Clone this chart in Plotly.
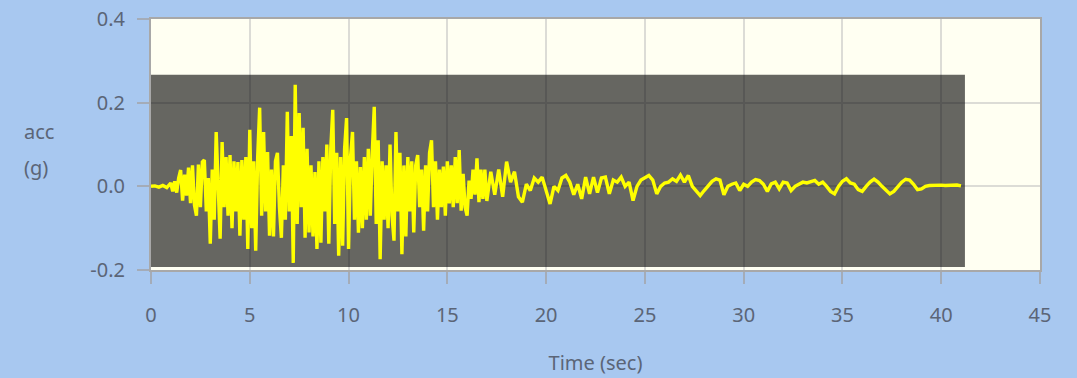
import plotly.graph_objects as go

# ---------------- data ----------------
# onset (quiet start)
t_onset = [0.0, 0.2, 0.4, 0.6, 0.8, 1.0, 1.1, 1.2, 1.3, 1.4]
a_onset = [0.0, 0.001, -0.002, 0.002, -0.003, 0.008, -0.012, 0.012, -0.015, 0.02]

# strong-motion phase
t_strong = [
    1.5, 1.6, 1.7, 1.8, 1.9, 2.0, 2.1, 2.2, 2.3, 2.4,
    2.5, 2.6, 2.7, 2.8, 2.9, 3.0, 3.1, 3.2, 3.3, 3.4,
    3.5, 3.6, 3.7, 3.8, 3.9, 4.0, 4.1, 4.2, 4.3, 4.4,
    4.5, 4.6, 4.7, 4.8, 4.9, 5.0, 5.1, 5.2, 5.3, 5.4,
    5.5, 5.6, 5.7, 5.8, 5.9, 6.0, 6.1, 6.2, 6.3, 6.4,
    6.5, 6.6, 6.7, 6.8, 6.9, 7.0, 7.1, 7.2, 7.3, 7.4,
    7.5, 7.6, 7.7, 7.8, 7.9, 8.0, 8.1, 8.2, 8.3, 8.4,
    8.5, 8.6, 8.7, 8.8, 8.9, 9.0, 9.1, 9.2, 9.3, 9.4,
    9.5, 9.6, 9.7, 9.8, 9.9, 10.0, 10.1, 10.2, 10.3, 10.4,
    10.5, 10.6, 10.7, 10.8, 10.9, 11.0, 11.1, 11.2, 11.3, 11.4,
    11.5, 11.6, 11.7, 11.8, 11.9, 12.0, 12.1, 12.2, 12.3, 12.4,
    12.5, 12.6, 12.7, 12.8, 12.9, 13.0, 13.1, 13.2, 13.3, 13.4,
    13.5, 13.6, 13.7, 13.8, 13.9, 14.0, 14.1, 14.2, 14.3, 14.4,
    14.5, 14.6, 14.7, 14.8, 14.9, 15.0, 15.1, 15.2, 15.3, 15.4,
    15.5, 15.6, 15.7, 15.8, 15.9, 16.0, 16.1, 16.2, 16.3, 16.4,
    16.5, 16.6, 16.7, 16.8, 16.9, 17.0,
]
a_strong = [
    0.039, -0.034, 0.028, -0.022, 0.045, -0.040, 0.050, -0.045, -0.070, 0.052,
    -0.050, 0.058, 0.063, -0.060, 0.020, -0.137, 0.040, -0.080, 0.130, -0.030,
    -0.125, 0.106, -0.050, 0.070, -0.070, 0.075, -0.100, 0.060, -0.060, 0.058,
    -0.118, 0.063, -0.080, 0.070, -0.150, 0.135, -0.100, 0.060, -0.154, 0.070,
    0.188, -0.070, 0.130, -0.060, 0.082, -0.118, 0.040, -0.120, 0.060, 0.080,
    -0.050, -0.123, 0.050, -0.080, 0.178, -0.060, 0.120, -0.183, 0.243, -0.090,
    0.175, -0.050, 0.140, -0.123, 0.090, -0.110, 0.050, -0.120, 0.034, -0.150,
    0.060, -0.135, 0.070, -0.060, 0.100, -0.137, 0.090, 0.183, -0.090, 0.080,
    -0.166, 0.070, -0.142, 0.090, 0.163, -0.150, 0.070, 0.130, -0.080, 0.060,
    -0.111, 0.046, -0.100, 0.070, -0.080, 0.090, -0.070, 0.080, 0.190, -0.090,
    0.110, -0.174, 0.060, -0.080, 0.050, -0.100, 0.100, -0.070, -0.130, 0.130,
    -0.060, 0.080, -0.162, 0.050, -0.120, 0.070, -0.060, 0.060, -0.110, 0.050,
    0.075, -0.050, 0.040, -0.106, 0.050, -0.060, 0.080, 0.110, -0.050, 0.060,
    -0.080, 0.040, -0.050, 0.047, -0.070, 0.060, -0.041, 0.050, -0.050, 0.070,
    -0.040, 0.087, -0.058, 0.030, -0.050, -0.070, 0.014, -0.030, 0.040, -0.020,
    0.067, -0.038, 0.040, -0.030, 0.040, -0.035,
]

# coda (decaying tail)
t_coda = [
    17.2, 17.4, 17.6, 17.8, 18.0, 18.2, 18.4, 18.6, 18.8, 19.0,
    19.2, 19.4, 19.6, 19.8, 20.0, 20.2, 20.4, 20.6, 20.8, 21.0,
    21.2, 21.4, 21.6, 21.8, 22.0, 22.2, 22.4, 22.6, 22.8, 23.0,
    23.2, 23.4, 23.6, 23.8, 24.0, 24.2, 24.4, 24.6, 24.8, 25.0,
    25.2, 25.4, 25.6, 25.8, 26.0, 26.2, 26.4, 26.6, 26.8, 27.0,
    27.2, 27.4, 27.6, 27.8, 28.0, 28.2, 28.4, 28.6, 28.8, 29.0,
    29.2, 29.4, 29.6, 29.8, 30.0, 30.2, 30.4, 30.6, 30.8, 31.0,
    31.2, 31.4, 31.6, 31.8, 32.0, 32.2, 32.4, 32.6, 32.8, 33.0,
    33.2, 33.4, 33.6, 33.8, 34.0, 34.2, 34.4, 34.6, 34.8, 35.0,
    35.2, 35.4, 35.6, 35.8, 36.0, 36.2, 36.4, 36.6, 36.8, 37.0,
    37.2, 37.4, 37.6, 37.8, 38.0, 38.2, 38.4, 38.6, 38.8, 39.0,
    39.2, 39.4, 39.6, 39.8, 40.0, 40.2, 40.4, 40.6, 40.8, 41.0,
]
a_coda = [
    0.035, -0.020, 0.040, -0.025, 0.059, 0.010, 0.035, -0.025, -0.038, 0.005,
    -0.010, 0.020, 0.010, 0.022, -0.010, -0.042, 0.000, -0.010, 0.020, 0.026,
    0.010, -0.020, 0.005, -0.030, 0.022, -0.018, 0.022, -0.015, 0.020, 0.022,
    -0.018, 0.015, 0.010, 0.022, 0.000, 0.010, -0.034, 0.000, 0.015, 0.020,
    0.026, 0.015, -0.018, 0.000, 0.008, 0.010, 0.018, 0.012, 0.027, 0.010,
    0.026, 0.000, -0.010, -0.022, -0.010, 0.000, 0.012, 0.018, 0.015, -0.020,
    0.000, 0.005, 0.008, -0.010, 0.005, 0.000, 0.010, 0.016, 0.014, 0.005,
    -0.012, 0.006, 0.010, -0.006, 0.010, 0.008, -0.010, 0.000, 0.005, 0.010,
    0.008, 0.012, 0.014, 0.005, 0.010, 0.000, -0.012, -0.018, 0.000, 0.012,
    0.018, 0.008, 0.005, -0.008, -0.012, 0.000, 0.010, 0.017, 0.010, 0.000,
    -0.010, -0.018, -0.012, 0.000, 0.010, 0.017, 0.015, 0.005, -0.008, -0.006,
    0.000, 0.002, 0.003, 0.002, 0.003, 0.002, 0.003, 0.002, 0.003, 0.001,
]

# shaded record window
window_t = [0.0, 41.2]
window_acc = [-0.193, 0.267]

x_ticks = [0, 5, 10, 15, 20, 25, 30, 35, 40, 45]
y_ticks = [-0.2, 0.0, 0.2, 0.4]

# ---------------- figure ----------------
t_all = t_onset + t_strong + t_coda
a_all = a_onset + a_strong + a_coda

text_color = "#5b6577"
font_family = "Noto Sans, Open Sans, sans-serif"

fig = go.Figure()
fig.add_trace(go.Scatter(
    x=t_all, y=a_all, mode="lines",
    line=dict(color="#ffff00", width=3.4),
    hoverinfo="skip", showlegend=False,
))

fig.add_shape(
    type="rect", xref="x", yref="y",
    x0=window_t[0], x1=window_t[1], y0=window_acc[0], y1=window_acc[1],
    fillcolor="rgba(0,0,0,0.6)", line=dict(width=0), layer="between",
)

axis_common = dict(
    showgrid=True, gridcolor="#dcdcd6", gridwidth=1.5,
    showline=True, linecolor="#a8a8a8", linewidth=2, mirror=True,
    ticks="outside", ticklen=12, tickcolor="#a4acb8", tickwidth=2,
    tickfont=dict(size=20, color=text_color, family=font_family),
    zeroline=False, fixedrange=True, automargin=False,
)

fig.update_xaxes(
    range=[0, 45], tickvals=x_ticks, ticktext=[str(v) for v in x_ticks],
    ticklabelstandoff=14,
    title=dict(text="Time (sec)", font=dict(size=20, color=text_color, family=font_family), standoff=29),
    **axis_common,
)
fig.update_yaxes(
    range=[-0.2, 0.4], tickvals=y_ticks, ticktext=[f"{v:.1f}" for v in y_ticks],
    ticklabelstandoff=8,
    **axis_common,
)

fig.add_annotation(
    text="acc", xref="paper", yref="paper", x=-0.145, y=0.55,
    xanchor="left", yanchor="middle", showarrow=False,
    font=dict(size=20, color=text_color, family=font_family),
)
fig.add_annotation(
    text="(g)", xref="paper", yref="paper", x=-0.145, y=0.41,
    xanchor="left", yanchor="middle", showarrow=False,
    font=dict(size=20, color=text_color, family=font_family),
)

fig.update_layout(
    width=1077, height=378,
    margin=dict(l=151, r=37, t=19, b=108),
    paper_bgcolor="#a8c8f0",
    plot_bgcolor="#fffff2",
)

fig.write_html(
    "out.html",
    config={"displayModeBar": False},
    post_script="document.body.style.margin='0';document.body.style.overflow='hidden';",
)
